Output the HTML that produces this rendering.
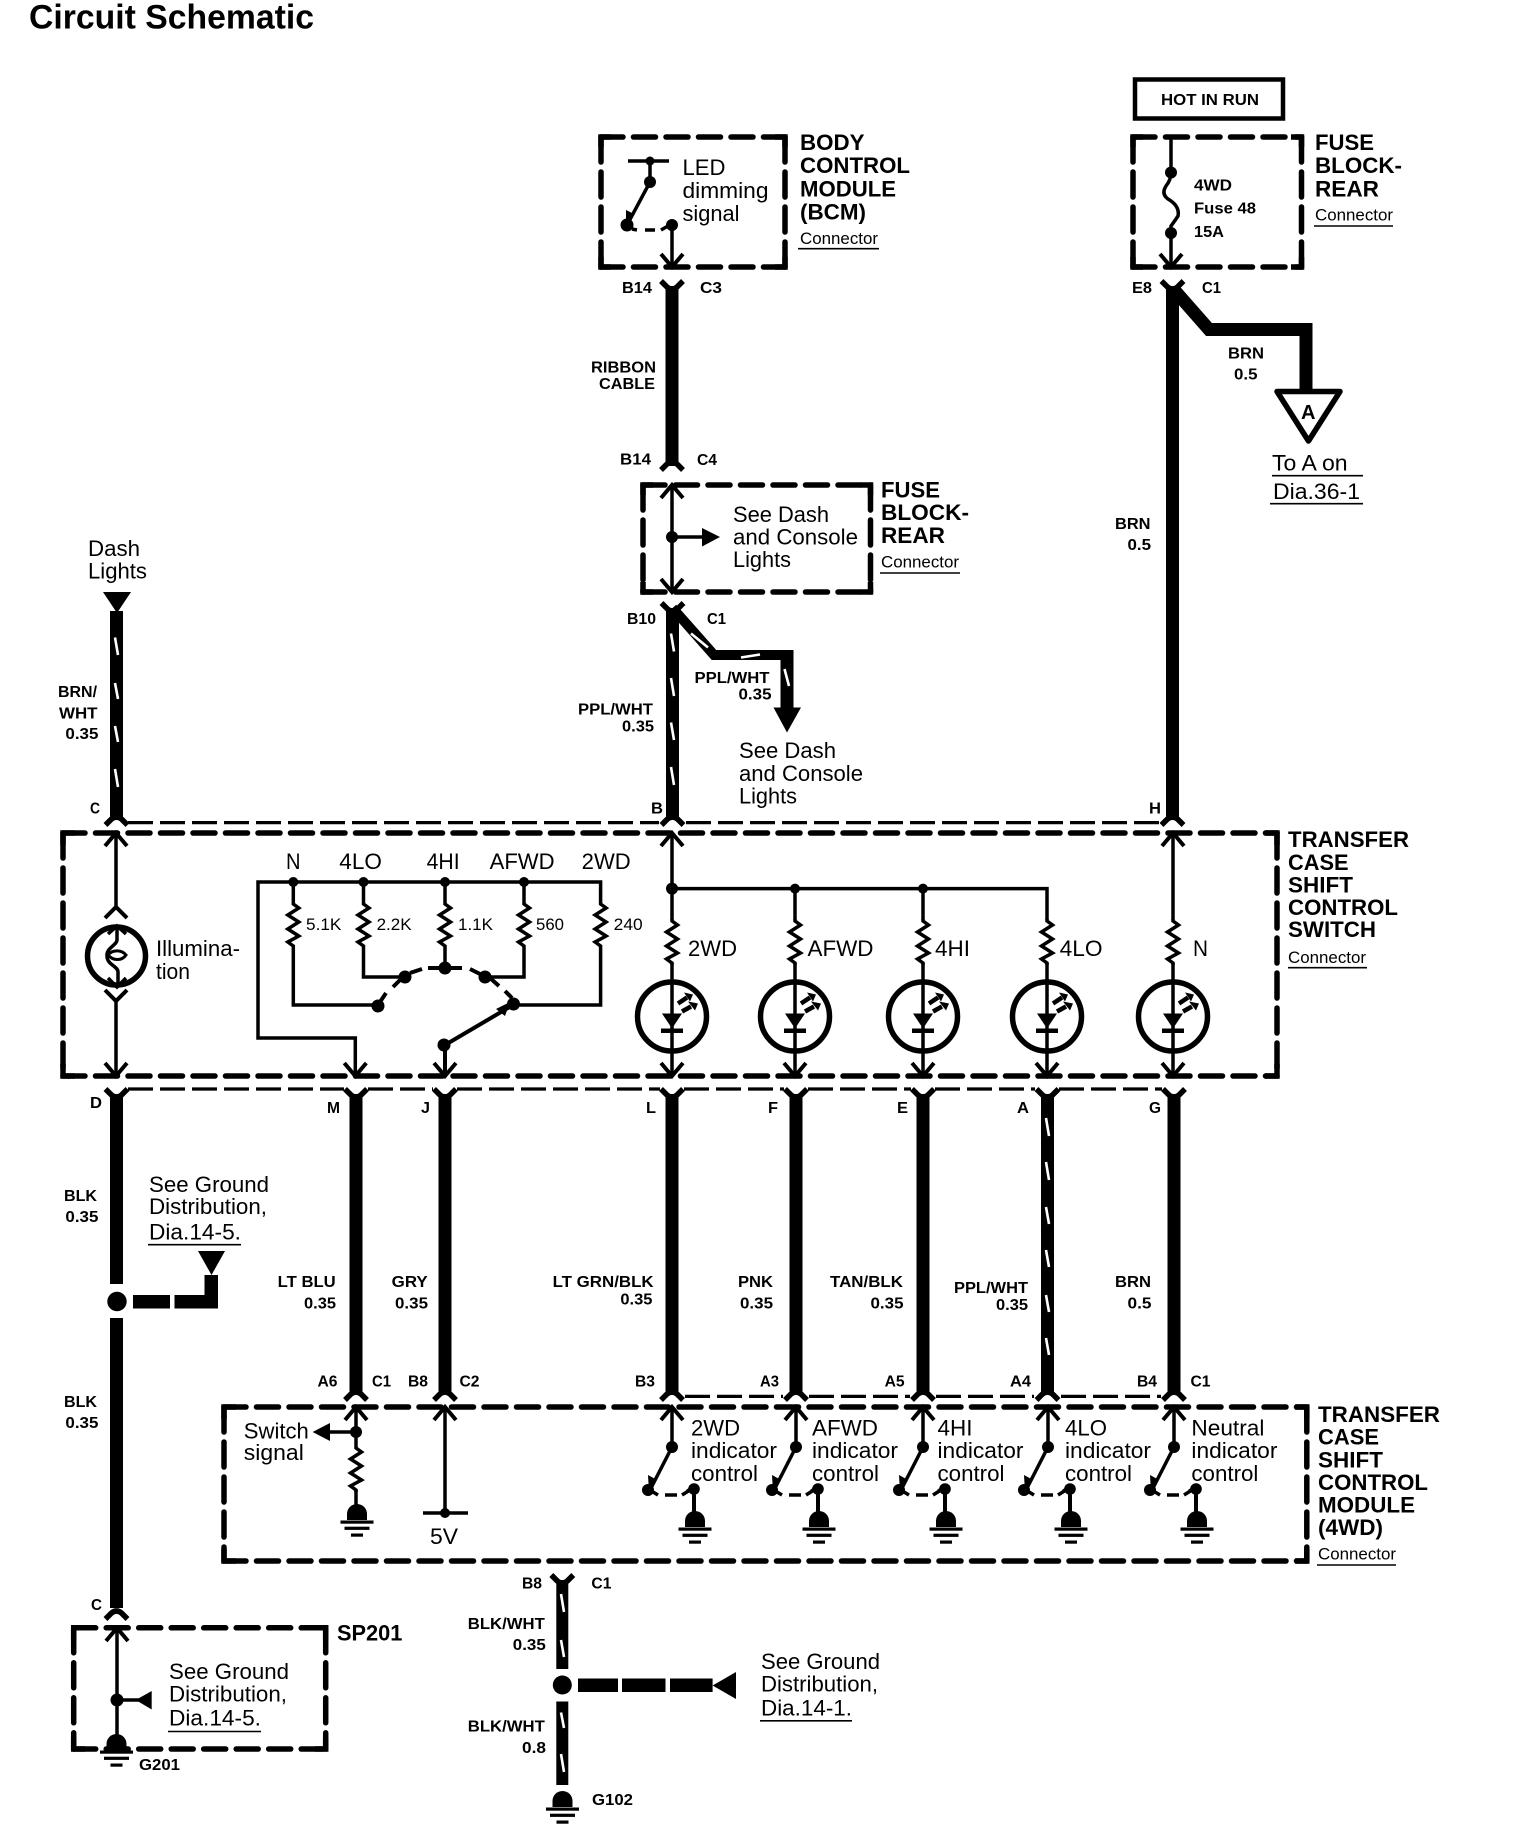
<!DOCTYPE html>
<html><head><meta charset="utf-8"><title>Circuit Schematic</title>
<style>
html,body{margin:0;padding:0;background:#fff}
svg{display:block}
text{font-family:"Liberation Sans",sans-serif;fill:#000}
.r{font-size:22px}.b{font-size:22px;font-weight:bold}.s{font-size:16px;font-weight:bold}.c{font-size:17px}.t{font-size:34px;font-weight:bold}
.l{fill:none;stroke:#000;stroke-width:3.5}
.w{fill:none;stroke:#000;stroke-width:13}
.x{fill:none;stroke:#fff;stroke-width:2.6}
.h{fill:none;stroke:#000;stroke-width:5.5;stroke-dasharray:22 10.5;stroke-linecap:round}
.v{fill:none;stroke:#000;stroke-width:5.5;stroke-dasharray:25 10;stroke-linecap:round}
.k{fill:none;stroke:#000;stroke-width:5.5}
.d{fill:none;stroke:#000;stroke-width:3.2;stroke-dasharray:25 7}
.u{fill:none;stroke:#000;stroke-width:1.6}
.f{fill:none;stroke:#000;stroke-width:5.5;stroke-linejoin:round}
.a{fill:none;stroke:#000;stroke-width:4}
</style></head><body>
<svg xmlns="http://www.w3.org/2000/svg" width="1520" height="1828" viewBox="0 0 1520 1828">
<defs>
<path id="cu" class="a" d="M-11 13L0 0L11 13"/>
<path id="cd" class="a" d="M-11 -13L0 0L11 -13"/>
<path id="fy" class="f" d="M-11 0L-5 6Q0 10 5 6L11 0"/>
<path id="fa" class="f" d="M-11 9L-5 3Q0 -1 5 3L11 9"/>
<path id="res" class="l" d="M0 0V2L5.5 6L-5.5 13L5.5 20L-5.5 27L5.5 34L-5.5 40L0 44V46"/>
<g id="led">
<circle r="34.5" fill="none" stroke="#000" stroke-width="5.5"/>
<path d="M-10 -3H10L0 12Z"/>
<rect x="-11" y="12" width="22" height="4.5"/>
<path d="M6 -13L15 -19" stroke="#000" stroke-width="4.5"/><path d="M12 -24L21 -22L18 -15Z"/>
<path d="M10 -5L19 -10" stroke="#000" stroke-width="4.5"/><path d="M16 -15L26 -13L23 -6Z"/>
</g>
<g id="gnd">
<path d="M-10 0V-6A10 10 0 0 1 10 -6V0Z"/>
<rect x="-16.5" y="0.5" width="33" height="3.2"/>
<rect x="-12.5" y="6.7" width="25" height="3.2"/>
<rect x="-6" y="13.5" width="12" height="3.2"/>
</g>
<g id="sw">
<circle r="6"/>
<path class="l" d="M0 0L-22 43"/>
<path d="M-24 28L-15 33L-23 45Z"/>
<circle cx="-24" cy="43" r="6"/>
<path class="l" d="M-19 45L-14 48M-7 48H5M10 48L18 43"/>
<circle cx="22" cy="42" r="5.8"/>
<path d="M14 43L22 37V46Z"/>
<path d="M22 42V75" fill="none" stroke="#000" stroke-width="4"/>
<use href="#gnd" x="23" y="80"/>
</g>
</defs>

<!-- Title -->
<text class="t" x="29" y="28.5" textLength="285" lengthAdjust="spacingAndGlyphs">Circuit Schematic</text>

<!-- BCM box -->
<path class="h" d="M601 137H785M601 267H785"/><path class="v" d="M601 137V267M785 137V267"/>
<path class="k" d="M601 147V137H611M775 137H785V147M601 257V267H611M785 257V267H775"/>
<path class="l" d="M628 161H669M650 161V182M650 182L627 225M672 225V267"/>
<circle cx="650" cy="161" r="4.5"/><circle cx="650" cy="182" r="6"/><circle cx="627" cy="225" r="6.5"/><circle cx="672" cy="225" r="6"/>
<path d="M626 210L634 214L626 226Z"/><path class="l" d="M632 229L637 230M645 230H655M661 230L668 226"/>
<use href="#cd" x="672" y="267"/>
<text class="r" x="682.5" y="175" textLength="43" lengthAdjust="spacingAndGlyphs">LED</text>
<text class="r" x="682.5" y="198" textLength="86" lengthAdjust="spacingAndGlyphs">dimming</text>
<text class="r" x="682.5" y="221" textLength="57" lengthAdjust="spacingAndGlyphs">signal</text>
<text class="b" x="800" y="150" textLength="64.5" lengthAdjust="spacingAndGlyphs">BODY</text>
<text class="b" x="800" y="173" textLength="110" lengthAdjust="spacingAndGlyphs">CONTROL</text>
<text class="b" x="800" y="196.5" textLength="96" lengthAdjust="spacingAndGlyphs">MODULE</text>
<text class="b" x="800" y="219.5" textLength="66" lengthAdjust="spacingAndGlyphs">(BCM)</text>
<text class="c" x="800" y="244" textLength="78" lengthAdjust="spacingAndGlyphs">Connector</text>
<path class="u" d="M798 248.7H879"/>

<!-- Ribbon cable -->
<use href="#fy" x="672" y="281"/>
<path class="w" d="M672 286V466"/>
<use href="#fa" x="672" y="461"/>
<text class="s" x="622" y="293" textLength="30" lengthAdjust="spacingAndGlyphs">B14</text>
<text class="s" x="700" y="293" textLength="22" lengthAdjust="spacingAndGlyphs">C3</text>
<text class="s" x="591" y="372.5" textLength="65" lengthAdjust="spacingAndGlyphs">RIBBON</text>
<text class="s" x="599" y="389" textLength="56" lengthAdjust="spacingAndGlyphs">CABLE</text>
<text class="s" x="620" y="464.6" textLength="31" lengthAdjust="spacingAndGlyphs">B14</text>
<text class="s" x="697" y="465" textLength="20" lengthAdjust="spacingAndGlyphs">C4</text>

<!-- Fuse block box (dash) -->
<path class="h" d="M643 485H870.5M643 592H870.5"/><path class="v" d="M643 485V592M870.5 485V592"/>
<path class="k" d="M643 495V485H653M860 485H870.5V495M643 582V592H653M870.5 582V592H860"/>
<path class="l" d="M672 485V592M672 537H703"/>
<use href="#cu" x="672" y="485"/><use href="#cd" x="672" y="592"/>
<circle cx="672" cy="537" r="6"/><path d="M702 528L720 537L702 546.5Z"/>
<text class="r" x="733" y="522" textLength="96" lengthAdjust="spacingAndGlyphs">See Dash</text>
<text class="r" x="733" y="544.5" textLength="125" lengthAdjust="spacingAndGlyphs">and Console</text>
<text class="r" x="733" y="567" textLength="58" lengthAdjust="spacingAndGlyphs">Lights</text>
<text class="b" x="881" y="497.4" textLength="59" lengthAdjust="spacingAndGlyphs">FUSE</text>
<text class="b" x="881" y="520" textLength="88" lengthAdjust="spacingAndGlyphs">BLOCK-</text>
<text class="b" x="881" y="543" textLength="64" lengthAdjust="spacingAndGlyphs">REAR</text>
<text class="c" x="881" y="567.5" textLength="78" lengthAdjust="spacingAndGlyphs">Connector</text>
<path class="u" d="M880 573H960"/>

<!-- Hot in run -->
<rect x="1135" y="79.5" width="148" height="39" fill="none" stroke="#000" stroke-width="4.5"/>
<text class="s" x="1161" y="105" textLength="98" lengthAdjust="spacingAndGlyphs">HOT IN RUN</text>
<path class="h" d="M1133 137H1301.5M1133 267H1301.5"/><path class="v" d="M1133 137V267M1301.5 137V267"/>
<path class="k" d="M1133 147V137H1143M1291 137H1301.5V147M1133 257V267H1143M1301.5 257V267H1291"/>
<path class="l" d="M1171 137V172Q1171 180 1166 186Q1161 194 1168 199Q1180 206 1178 216Q1174 222 1171 226V267"/>
<circle cx="1171" cy="172.5" r="6"/><circle cx="1171" cy="233" r="6"/>
<use href="#cd" x="1171" y="267"/>
<text class="s" x="1194" y="190.6" textLength="38" lengthAdjust="spacingAndGlyphs">4WD</text>
<text class="s" x="1194" y="213.5" textLength="62" lengthAdjust="spacingAndGlyphs">Fuse 48</text>
<text class="s" x="1194" y="237" textLength="30" lengthAdjust="spacingAndGlyphs">15A</text>
<text class="b" x="1315" y="150" textLength="59" lengthAdjust="spacingAndGlyphs">FUSE</text>
<text class="b" x="1315" y="173" textLength="87" lengthAdjust="spacingAndGlyphs">BLOCK-</text>
<text class="b" x="1315" y="196.5" textLength="64" lengthAdjust="spacingAndGlyphs">REAR</text>
<text class="c" x="1315" y="220.6" textLength="78" lengthAdjust="spacingAndGlyphs">Connector</text>
<path class="u" d="M1314 226H1393"/>

<!-- BRN wire + branch -->
<use href="#fy" x="1172.5" y="281"/>
<path class="w" d="M1172.5 286V820"/>
<path class="w" d="M1172.5 288L1209 329.5H1306V392"/>
<path d="M1277 391.5H1340L1308.5 441Z" fill="#fff" stroke="#000" stroke-width="5.5" stroke-linejoin="round"/>
<text x="1301" y="419" style="font-size:20px;font-weight:bold" textLength="14.5" lengthAdjust="spacingAndGlyphs">A</text>
<text class="s" x="1228" y="358.6" textLength="36" lengthAdjust="spacingAndGlyphs">BRN</text>
<text class="s" x="1234" y="379.6" textLength="23.5" lengthAdjust="spacingAndGlyphs">0.5</text>
<text class="s" x="1132" y="293" textLength="20" lengthAdjust="spacingAndGlyphs">E8</text>
<text class="s" x="1202" y="293" textLength="19" lengthAdjust="spacingAndGlyphs">C1</text>
<text class="r" x="1272" y="470.5" textLength="75.6" lengthAdjust="spacingAndGlyphs">To A on</text>
<path class="u" d="M1272 475.7H1363"/>
<text class="r" x="1273" y="499" textLength="87" lengthAdjust="spacingAndGlyphs">Dia.36-1</text>
<path class="u" d="M1270 503.7H1363"/>
<text class="s" x="1115" y="529" textLength="35.5" lengthAdjust="spacingAndGlyphs">BRN</text>
<text class="s" x="1127.5" y="550" textLength="23.5" lengthAdjust="spacingAndGlyphs">0.5</text>

<!-- Dash lights -->
<text class="r" x="88" y="556" textLength="52" lengthAdjust="spacingAndGlyphs">Dash</text>
<text class="r" x="88" y="578.5" textLength="59" lengthAdjust="spacingAndGlyphs">Lights</text>
<path d="M103 592H131L117 613Z"/>
<path class="w" d="M116.5 611V820"/>
<path class="x" d="M115 637.5L118 655M115 683L118 699M115 726L118 742M115 769L118 787"/>
<use href="#fa" x="116.5" y="816"/>
<text class="s" x="58" y="697" textLength="39" lengthAdjust="spacingAndGlyphs">BRN/</text>
<text class="s" x="59" y="718.6" textLength="38.5" lengthAdjust="spacingAndGlyphs">WHT</text>
<text class="s" x="65.4" y="739" textLength="33" lengthAdjust="spacingAndGlyphs">0.35</text>
<text class="s" x="90" y="813.5" textLength="10" lengthAdjust="spacingAndGlyphs">C</text>

<!-- PPL/WHT wire -->
<use href="#fy" x="672.5" y="603"/>
<path class="w" d="M672.5 608V820"/>
<path class="x" d="M671 633.5L674 651.5M671 678L674 696M671 722.5L674 740M671 767L674 785"/>
<path class="w" d="M672.5 608L714 655H787" style="stroke-width:10"/>
<path class="w" d="M787 650V710"/>
<path d="M773.5 707.5H801L787 732.5Z"/>
<path class="x" d="M691 633.5L708 647.5M741 657.5L760 654.5M784.5 669L789 686"/>
<use href="#fa" x="672.5" y="816"/>
<text class="s" x="627" y="624" textLength="29" lengthAdjust="spacingAndGlyphs">B10</text>
<text class="s" x="707" y="624" textLength="19" lengthAdjust="spacingAndGlyphs">C1</text>
<text class="s" x="694.5" y="683" textLength="75" lengthAdjust="spacingAndGlyphs">PPL/WHT</text>
<text class="s" x="738.5" y="699.6" textLength="33" lengthAdjust="spacingAndGlyphs">0.35</text>
<text class="s" x="578" y="714.7" textLength="75" lengthAdjust="spacingAndGlyphs">PPL/WHT</text>
<text class="s" x="622" y="731.3" textLength="32" lengthAdjust="spacingAndGlyphs">0.35</text>
<text class="r" x="739" y="758" textLength="97" lengthAdjust="spacingAndGlyphs">See Dash</text>
<text class="r" x="739" y="781" textLength="124" lengthAdjust="spacingAndGlyphs">and Console</text>
<text class="r" x="739" y="803.5" textLength="58" lengthAdjust="spacingAndGlyphs">Lights</text>
<text class="s" x="651" y="813.5" textLength="12" lengthAdjust="spacingAndGlyphs">B</text>
<text class="s" x="1149" y="813.5" textLength="12" lengthAdjust="spacingAndGlyphs">H</text>
<use href="#fa" x="1172.5" y="816"/>

<!-- Transfer case switch box -->
<path class="d" d="M128 822.6H659M686 822.6H1160"/>
<path class="h" d="M63 833H1277M63 1076H1277"/><path class="v" d="M63 833V1076M1277 833V1076"/>
<path class="k" d="M63 845V833H75M1265 833H1277V845M63 1064V1076H75M1277 1064V1076H1265"/>
<path class="d" d="M128 1089H344M368 1089H433M457 1089H660M684 1089H784M808 1089H911M935 1089H1035M1059 1089H1162"/>

<!-- Illumination -->
<path class="l" d="M116 833V908M116 1001V1076"/>
<use href="#cu" x="116" y="833"/>
<path class="a" d="M105 918L116 907L127 918M105 990L116 1001L127 990"/>
<use href="#cd" x="116" y="1076"/>
<circle cx="116.5" cy="956" r="29" fill="none" stroke="#000" stroke-width="5.5"/>
<path class="l" d="M108 934L117 926L126 934M108 978L117 987L126 978"/>
<path class="l" d="M117 927V940C117 945 106 948 107 956C107 965 118 966 118 972V986"/>
<path d="M108 955C113 949 122 950 126 955C122 961 113 961 108 955Z" fill="none" stroke="#000" stroke-width="3"/>
<text class="r" x="156" y="956" textLength="84" lengthAdjust="spacingAndGlyphs">Illumina-</text>
<text class="r" x="156" y="979" textLength="34" lengthAdjust="spacingAndGlyphs">tion</text>

<!-- Resistor network -->
<text class="r" x="286" y="869" textLength="14.5" lengthAdjust="spacingAndGlyphs">N</text>
<text class="r" x="339.3" y="869" textLength="42.6" lengthAdjust="spacingAndGlyphs">4LO</text>
<text class="r" x="426.6" y="869" textLength="33" lengthAdjust="spacingAndGlyphs">4HI</text>
<text class="r" x="489.6" y="869" textLength="65" lengthAdjust="spacingAndGlyphs">AFWD</text>
<text class="r" x="581.7" y="869" textLength="49" lengthAdjust="spacingAndGlyphs">2WD</text>
<path class="l" d="M355.3 1076V1038H258V882H600.6V902"/>
<use href="#cd" x="355.3" y="1076"/>
<path class="l" d="M293.3 882V902M363.5 882V902M445 882V902M524 882V902"/>
<circle cx="293.3" cy="882" r="5"/><circle cx="363.5" cy="882" r="5"/><circle cx="445" cy="882" r="5"/><circle cx="524" cy="882" r="5"/>
<use href="#res" x="293.3" y="902"/><use href="#res" x="363.5" y="902"/><use href="#res" x="445" y="902"/><use href="#res" x="524" y="902"/><use href="#res" x="600.6" y="902"/>
<text class="c" x="306" y="930" textLength="35.4" lengthAdjust="spacingAndGlyphs">5.1K</text>
<text class="c" x="376.6" y="930" textLength="35" lengthAdjust="spacingAndGlyphs">2.2K</text>
<text class="c" x="458" y="930" textLength="35" lengthAdjust="spacingAndGlyphs">1.1K</text>
<text class="c" x="536" y="930" textLength="28" lengthAdjust="spacingAndGlyphs">560</text>
<text class="c" x="613.7" y="930" textLength="29" lengthAdjust="spacingAndGlyphs">240</text>
<path class="l" d="M293.3 948V1005H378M363.5 948V977H405M445 948V968M524 948V977H485M600.6 948V1005H514"/>
<circle cx="378" cy="1006" r="6.5"/><circle cx="405" cy="977" r="6.5"/><circle cx="445" cy="968" r="6.5"/><circle cx="485" cy="977" r="6.5"/><circle cx="513.5" cy="1004" r="6.5"/>
<path class="l" d="M378 1005L386 993M393 987L402 978M410 973L422 969M428 968H462M470 969L480 974M490 978L499 986M505 991L512 998" style="stroke-width:4"/>
<path class="l" d="M445 1045L513 1005M445 1045V1076" style="stroke-width:4"/>
<path d="M496 1009L510 1002L505 1016Z"/>
<circle cx="444" cy="1045" r="6.5"/>
<use href="#cd" x="445" y="1076"/>

<!-- LED column -->
<path class="l" d="M672 833V920M672 888.6H1047V920M795 888.6V920M923 888.6V920M1173 833V920"/>
<path class="l" d="M672 963V1076M795 963V1076M923 963V1076M1047 963V1076M1173 963V1076"/>
<use href="#cu" x="672" y="833"/><use href="#cu" x="1173" y="833"/>
<circle cx="672" cy="888.6" r="6"/><circle cx="795" cy="888.6" r="5"/><circle cx="923" cy="888.6" r="5"/>
<use href="#res" x="672" y="919"/><use href="#res" x="795" y="919"/><use href="#res" x="923" y="919"/><use href="#res" x="1047" y="919"/><use href="#res" x="1173" y="919"/>
<use href="#led" x="672" y="1016.5"/><use href="#led" x="795" y="1016.5"/><use href="#led" x="923" y="1016.5"/><use href="#led" x="1047" y="1016.5"/><use href="#led" x="1173" y="1016.5"/>
<use href="#cd" x="672" y="1076"/><use href="#cd" x="795" y="1076"/><use href="#cd" x="923" y="1076"/><use href="#cd" x="1047" y="1076"/><use href="#cd" x="1173" y="1076"/>
<text class="r" x="688" y="956" textLength="49" lengthAdjust="spacingAndGlyphs">2WD</text>
<text class="r" x="807.5" y="956" textLength="66" lengthAdjust="spacingAndGlyphs">AFWD</text>
<text class="r" x="935" y="956" textLength="35" lengthAdjust="spacingAndGlyphs">4HI</text>
<text class="r" x="1059.6" y="956" textLength="43" lengthAdjust="spacingAndGlyphs">4LO</text>
<text class="r" x="1193" y="956" textLength="15" lengthAdjust="spacingAndGlyphs">N</text>
<text class="b" x="1288" y="847" textLength="121" lengthAdjust="spacingAndGlyphs">TRANSFER</text>
<text class="b" x="1288" y="870" textLength="60.6" lengthAdjust="spacingAndGlyphs">CASE</text>
<text class="b" x="1288" y="892.6" textLength="65" lengthAdjust="spacingAndGlyphs">SHIFT</text>
<text class="b" x="1288" y="915" textLength="110" lengthAdjust="spacingAndGlyphs">CONTROL</text>
<text class="b" x="1288" y="937" textLength="88" lengthAdjust="spacingAndGlyphs">SWITCH</text>
<text class="c" x="1288" y="963" textLength="78" lengthAdjust="spacingAndGlyphs">Connector</text>
<path class="u" d="M1288 967.7H1367"/>

<!-- Long wires -->
<use href="#fy" x="116.5" y="1089"/>
<use href="#fy" x="356" y="1089"/><use href="#fy" x="445" y="1089"/><use href="#fy" x="672" y="1089"/>
<use href="#fy" x="796" y="1089"/><use href="#fy" x="923" y="1089"/><use href="#fy" x="1047.5" y="1089"/><use href="#fy" x="1174" y="1089"/>
<path class="w" d="M116.5 1094V1284M116.5 1318V1608"/>
<path class="w" d="M356 1094V1393M445 1094V1393M672 1094V1393M796 1094V1393M923 1094V1393M1047.5 1094V1393M1174 1094V1393"/>
<path class="x" d="M1046 1118L1049 1136M1046 1162L1049 1180M1046 1207L1049 1224M1046 1250L1049 1267M1046 1295L1049 1312M1046 1338L1049 1355"/>
<use href="#fa" x="356" y="1391"/><use href="#fa" x="445" y="1391"/><use href="#fa" x="672" y="1391"/>
<use href="#fa" x="796" y="1391"/><use href="#fa" x="923" y="1391"/><use href="#fa" x="1047.5" y="1391"/><use href="#fa" x="1174" y="1391"/>
<use href="#fa" x="116.5" y="1610"/>
<path class="d" d="M685 1396.4H783M809 1396.4H910M936 1396.4H1034M1061 1396.4H1161"/>
<ellipse cx="117" cy="1301.5" rx="9.7" ry="9.7"/>
<path d="M133 1295H170V1308.5H133ZM174.5 1295H204.5V1275H218V1308.5H174.5Z"/>
<path d="M198 1251H225L211.5 1275Z"/>
<text class="s" x="90" y="1108" textLength="12" lengthAdjust="spacingAndGlyphs">D</text>
<text class="s" x="327" y="1113" textLength="13" lengthAdjust="spacingAndGlyphs">M</text>
<text class="s" x="421" y="1113" textLength="9" lengthAdjust="spacingAndGlyphs">J</text>
<text class="s" x="646" y="1113" textLength="10" lengthAdjust="spacingAndGlyphs">L</text>
<text class="s" x="768" y="1113" textLength="10" lengthAdjust="spacingAndGlyphs">F</text>
<text class="s" x="897" y="1113" textLength="11" lengthAdjust="spacingAndGlyphs">E</text>
<text class="s" x="1017" y="1113" textLength="12" lengthAdjust="spacingAndGlyphs">A</text>
<text class="s" x="1149" y="1113" textLength="12" lengthAdjust="spacingAndGlyphs">G</text>
<text class="s" x="64" y="1201" textLength="33" lengthAdjust="spacingAndGlyphs">BLK</text>
<text class="s" x="65.4" y="1222" textLength="33" lengthAdjust="spacingAndGlyphs">0.35</text>
<text class="s" x="64" y="1407" textLength="33" lengthAdjust="spacingAndGlyphs">BLK</text>
<text class="s" x="65.4" y="1428" textLength="33" lengthAdjust="spacingAndGlyphs">0.35</text>
<text class="r" x="149" y="1192" textLength="120" lengthAdjust="spacingAndGlyphs">See Ground</text>
<text class="r" x="149" y="1214" textLength="118" lengthAdjust="spacingAndGlyphs">Distribution,</text>
<text class="r" x="149" y="1239.6" textLength="92" lengthAdjust="spacingAndGlyphs">Dia.14-5.</text>
<path class="u" d="M148 1244.7H241"/>
<text class="s" x="277.7" y="1287" textLength="58" lengthAdjust="spacingAndGlyphs">LT BLU</text>
<text class="s" x="304" y="1308.5" textLength="32" lengthAdjust="spacingAndGlyphs">0.35</text>
<text class="s" x="391.7" y="1287" textLength="36" lengthAdjust="spacingAndGlyphs">GRY</text>
<text class="s" x="395" y="1308.5" textLength="33" lengthAdjust="spacingAndGlyphs">0.35</text>
<text class="s" x="552.6" y="1287" textLength="101" lengthAdjust="spacingAndGlyphs">LT GRN/BLK</text>
<text class="s" x="620.4" y="1304.6" textLength="32" lengthAdjust="spacingAndGlyphs">0.35</text>
<text class="s" x="738" y="1287" textLength="35" lengthAdjust="spacingAndGlyphs">PNK</text>
<text class="s" x="740" y="1308.5" textLength="33" lengthAdjust="spacingAndGlyphs">0.35</text>
<text class="s" x="830" y="1287" textLength="73" lengthAdjust="spacingAndGlyphs">TAN/BLK</text>
<text class="s" x="870.5" y="1308.5" textLength="33" lengthAdjust="spacingAndGlyphs">0.35</text>
<text class="s" x="954" y="1293" textLength="74" lengthAdjust="spacingAndGlyphs">PPL/WHT</text>
<text class="s" x="996" y="1310" textLength="32" lengthAdjust="spacingAndGlyphs">0.35</text>
<text class="s" x="1115" y="1287" textLength="36" lengthAdjust="spacingAndGlyphs">BRN</text>
<text class="s" x="1127.5" y="1308.5" textLength="24" lengthAdjust="spacingAndGlyphs">0.5</text>
<text class="s" x="317.5" y="1386.6" textLength="20" lengthAdjust="spacingAndGlyphs">A6</text>
<text class="s" x="372" y="1386.6" textLength="19" lengthAdjust="spacingAndGlyphs">C1</text>
<text class="s" x="408" y="1386.6" textLength="20" lengthAdjust="spacingAndGlyphs">B8</text>
<text class="s" x="459.5" y="1386.6" textLength="20" lengthAdjust="spacingAndGlyphs">C2</text>
<text class="s" x="635" y="1386.6" textLength="20" lengthAdjust="spacingAndGlyphs">B3</text>
<text class="s" x="760" y="1386.6" textLength="19" lengthAdjust="spacingAndGlyphs">A3</text>
<text class="s" x="884.6" y="1386.6" textLength="20" lengthAdjust="spacingAndGlyphs">A5</text>
<text class="s" x="1010" y="1386.6" textLength="21" lengthAdjust="spacingAndGlyphs">A4</text>
<text class="s" x="1137" y="1386.6" textLength="20" lengthAdjust="spacingAndGlyphs">B4</text>
<text class="s" x="1190.5" y="1386.6" textLength="20" lengthAdjust="spacingAndGlyphs">C1</text>

<!-- Module box -->
<path class="h" d="M224 1407H1306.8M224 1561H1306.8"/><path class="v" d="M224 1407V1561M1306.8 1407V1561"/>
<path class="k" d="M224 1419V1407H236M1295 1407H1306.8V1419M224 1549V1561H236M1306.8 1549V1561H1295"/>
<path class="l" d="M356 1407V1446M329 1432H356M445 1407V1513M423 1513H468"/>
<use href="#cu" x="356" y="1407"/><use href="#cu" x="445" y="1407"/>
<circle cx="356" cy="1432" r="6"/><path d="M312.6 1432L330 1423V1441Z"/><circle cx="445" cy="1513" r="5"/>
<use href="#res" x="356" y="1446"/>
<use href="#gnd" x="357" y="1520"/><path class="l" d="M356 1490V1505"/>
<text class="r" x="243.8" y="1438.6" textLength="65" lengthAdjust="spacingAndGlyphs">Switch</text>
<text class="r" x="243.8" y="1460" textLength="60" lengthAdjust="spacingAndGlyphs">signal</text>
<text class="r" x="430" y="1544" textLength="28" lengthAdjust="spacingAndGlyphs">5V</text>
<path class="l" d="M672 1407V1447M796 1407V1447M923 1407V1447M1048 1407V1447M1174 1407V1447"/>
<use href="#cu" x="672" y="1407"/><use href="#cu" x="796" y="1407"/><use href="#cu" x="923" y="1407"/><use href="#cu" x="1048" y="1407"/><use href="#cu" x="1174" y="1407"/>
<use href="#sw" x="672" y="1447"/><use href="#sw" x="796" y="1447"/><use href="#sw" x="923" y="1447"/><use href="#sw" x="1048" y="1447"/><use href="#sw" x="1174" y="1447"/>
<text class="r" x="691" y="1435.5" textLength="49" lengthAdjust="spacingAndGlyphs">2WD</text>
<text class="r" x="691" y="1458" textLength="86" lengthAdjust="spacingAndGlyphs">indicator</text>
<text class="r" x="691" y="1481" textLength="67" lengthAdjust="spacingAndGlyphs">control</text>
<text class="r" x="812" y="1435.5" textLength="66" lengthAdjust="spacingAndGlyphs">AFWD</text>
<text class="r" x="812" y="1458" textLength="86" lengthAdjust="spacingAndGlyphs">indicator</text>
<text class="r" x="812" y="1481" textLength="67" lengthAdjust="spacingAndGlyphs">control</text>
<text class="r" x="937.5" y="1435.5" textLength="35" lengthAdjust="spacingAndGlyphs">4HI</text>
<text class="r" x="937.5" y="1458" textLength="86" lengthAdjust="spacingAndGlyphs">indicator</text>
<text class="r" x="937.5" y="1481" textLength="67" lengthAdjust="spacingAndGlyphs">control</text>
<text class="r" x="1065" y="1435.5" textLength="42" lengthAdjust="spacingAndGlyphs">4LO</text>
<text class="r" x="1065" y="1458" textLength="86" lengthAdjust="spacingAndGlyphs">indicator</text>
<text class="r" x="1065" y="1481" textLength="67" lengthAdjust="spacingAndGlyphs">control</text>
<text class="r" x="1191.4" y="1435.5" textLength="73" lengthAdjust="spacingAndGlyphs">Neutral</text>
<text class="r" x="1191.4" y="1458" textLength="86" lengthAdjust="spacingAndGlyphs">indicator</text>
<text class="r" x="1191.4" y="1481" textLength="67" lengthAdjust="spacingAndGlyphs">control</text>
<text class="b" x="1318" y="1422" textLength="122" lengthAdjust="spacingAndGlyphs">TRANSFER</text>
<text class="b" x="1318" y="1444.5" textLength="61" lengthAdjust="spacingAndGlyphs">CASE</text>
<text class="b" x="1318" y="1467.4" textLength="65" lengthAdjust="spacingAndGlyphs">SHIFT</text>
<text class="b" x="1318" y="1490" textLength="110" lengthAdjust="spacingAndGlyphs">CONTROL</text>
<text class="b" x="1318" y="1512.7" textLength="97" lengthAdjust="spacingAndGlyphs">MODULE</text>
<text class="b" x="1318" y="1535" textLength="65" lengthAdjust="spacingAndGlyphs">(4WD)</text>
<text class="c" x="1318" y="1559.6" textLength="78" lengthAdjust="spacingAndGlyphs">Connector</text>
<path class="u" d="M1317 1565H1396"/>

<!-- SP201 -->
<path class="h" d="M73.7 1627.8H325.7M73.7 1749H325.7"/><path class="v" d="M73.7 1627.8V1749M325.7 1627.8V1749"/>
<path class="k" d="M73.7 1639V1627.8H85M315 1627.8H325.7V1639M73.7 1738V1749H85M325.7 1738V1749H315"/>
<path class="l" d="M117 1628V1740M117 1700H140"/>
<use href="#cu" x="117" y="1628"/>
<circle cx="117" cy="1700" r="6.5"/><path d="M135.7 1700L151.7 1691V1709.5Z"/>
<use href="#gnd" x="116.5" y="1750"/>
<text class="b" x="337" y="1640.4" textLength="65.4" lengthAdjust="spacingAndGlyphs">SP201</text>
<text class="r" x="169" y="1679" textLength="120" lengthAdjust="spacingAndGlyphs">See Ground</text>
<text class="r" x="169" y="1701.5" textLength="118" lengthAdjust="spacingAndGlyphs">Distribution,</text>
<text class="r" x="169" y="1725.6" textLength="92" lengthAdjust="spacingAndGlyphs">Dia.14-5.</text>
<path class="u" d="M168 1731.5H261"/>
<text class="s" x="91" y="1610" textLength="11" lengthAdjust="spacingAndGlyphs">C</text>
<text class="s" x="139" y="1770" textLength="41" lengthAdjust="spacingAndGlyphs">G201</text>

<!-- G102 branch -->
<use href="#fy" x="562.3" y="1575"/>
<path class="w" d="M562.3 1580V1669M562.3 1701.5V1785" style="stroke-width:12"/>
<path class="x" d="M561 1594L564 1612M561 1640L564 1657M561 1712.5L564 1728M561 1754L564 1772"/>
<circle cx="562.3" cy="1685" r="9.5"/>
<path d="M578 1678.5H618V1692H578ZM622 1678.5H665.5V1692H622ZM670 1678.5H712.6V1692H670Z"/>
<path d="M712.6 1685.5L736 1672V1699Z"/>
<use href="#gnd" x="562.5" y="1807"/>
<text class="s" x="522" y="1588.4" textLength="20" lengthAdjust="spacingAndGlyphs">B8</text>
<text class="s" x="591.4" y="1588.4" textLength="20" lengthAdjust="spacingAndGlyphs">C1</text>
<text class="s" x="467.8" y="1629" textLength="77" lengthAdjust="spacingAndGlyphs">BLK/WHT</text>
<text class="s" x="512.8" y="1650" textLength="33" lengthAdjust="spacingAndGlyphs">0.35</text>
<text class="s" x="467.8" y="1731.5" textLength="77" lengthAdjust="spacingAndGlyphs">BLK/WHT</text>
<text class="s" x="522" y="1752.8" textLength="24" lengthAdjust="spacingAndGlyphs">0.8</text>
<text class="s" x="592" y="1805" textLength="41" lengthAdjust="spacingAndGlyphs">G102</text>
<text class="r" x="761" y="1669" textLength="119" lengthAdjust="spacingAndGlyphs">See Ground</text>
<text class="r" x="761" y="1691.7" textLength="117" lengthAdjust="spacingAndGlyphs">Distribution,</text>
<text class="r" x="761" y="1715.7" textLength="91" lengthAdjust="spacingAndGlyphs">Dia.14-1.</text>
<path class="u" d="M760 1720.8H852"/>
</svg>
</body></html>
